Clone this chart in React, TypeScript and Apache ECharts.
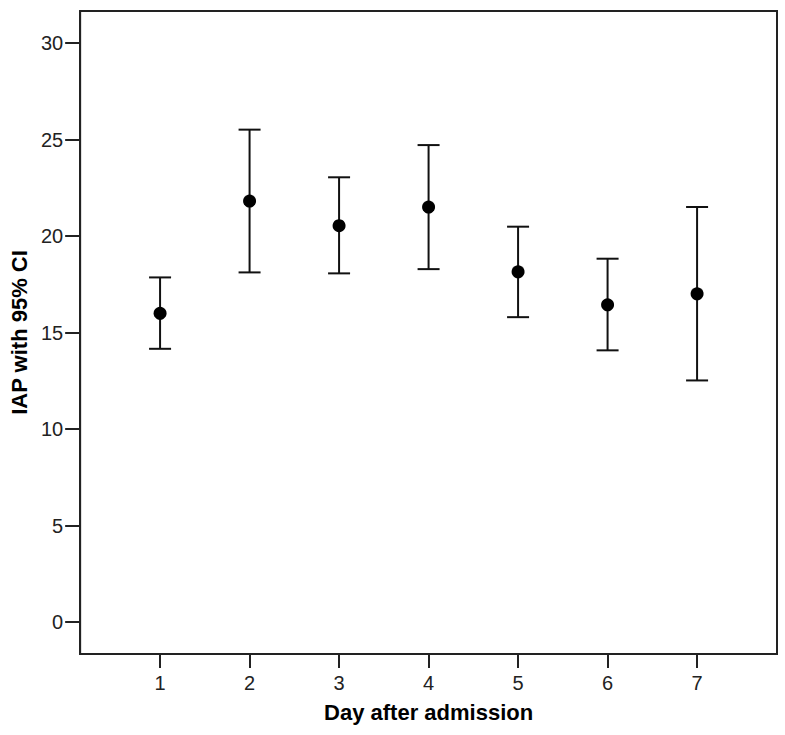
import React, { useEffect, useRef } from "react";
import * as echarts from "echarts";

const days = [1, 2, 3, 4, 5, 6, 7];
const means = [16.0, 21.82, 20.54, 21.51, 18.15, 16.44, 17.01];
const upperCI = [17.86, 25.52, 23.05, 24.72, 20.49, 18.83, 21.51];
const lowerCI = [14.16, 18.12, 18.07, 18.29, 15.8, 14.08, 12.52];
const yTicks = [0, 5, 10, 15, 20, 25, 30];

export default function App() {
  const ref = useRef<HTMLDivElement>(null);
  useEffect(() => {
    if (!ref.current) return;
    const chart = echarts.init(ref.current, null, { renderer: "svg" });
    const font = "'Liberation Sans', Arial, Helvetica, sans-serif";
    const axisColor = "#222";
    chart.setOption({
      animation: false,
      backgroundColor: "#fff",
      grid: {
        left: 79,
        right: 8,
        top: 11,
        bottom: 81,
        show: true,
        borderColor: axisColor,
        borderWidth: 2,
        containLabel: false,
      },
      xAxis: {
        type: "value",
        min: 0.107,
        max: 7.893,
        name: "Day after admission",
        nameLocation: "middle",
        nameGap: 47,
        nameTextStyle: { fontFamily: font, fontSize: 22, fontWeight: "bold", color: "#000" },
        splitLine: { show: false },
        axisLine: { show: true, onZero: false, lineStyle: { color: axisColor, width: 2 } },
        axisTick: { show: true, length: 14, lineStyle: { color: axisColor, width: 2 }, customValues: days },
        axisLabel: { fontFamily: font, fontSize: 20, color: "#222", margin: 19, customValues: days },
      },
      yAxis: {
        type: "value",
        min: -1.66,
        max: 31.67,
        name: "IAP with 95% CI",
        nameLocation: "middle",
        nameGap: 48,
        nameTextStyle: { fontFamily: font, fontSize: 22, fontWeight: "bold", color: "#000" },
        splitLine: { show: false },
        axisLine: { show: true, onZero: false, lineStyle: { color: axisColor, width: 2 } },
        axisTick: { show: true, length: 15, lineStyle: { color: axisColor, width: 2 }, customValues: yTicks },
        axisLabel: { fontFamily: font, fontSize: 20, color: "#222", margin: 17, customValues: yTicks },
      },
      series: [
        {
          type: "custom",
          data: days.map((d, i) => [d, lowerCI[i], upperCI[i]]),
          encode: { x: 0, y: [1, 2] },
          renderItem: (params: any, api: any) => {
            const x = api.value(0);
            const lo = api.coord([x, api.value(1)]);
            const hi = api.coord([x, api.value(2)]);
            const hw = 11;
            const style = { stroke: "#111", lineWidth: 2 };
            return {
              type: "group",
              children: [
                { type: "line", shape: { x1: lo[0], y1: lo[1], x2: hi[0], y2: hi[1] }, style },
                { type: "line", shape: { x1: hi[0] - hw, y1: hi[1], x2: hi[0] + hw, y2: hi[1] }, style },
                { type: "line", shape: { x1: lo[0] - hw, y1: lo[1], x2: lo[0] + hw, y2: lo[1] }, style },
              ],
            };
          },
          z: 2,
        },
        {
          type: "scatter",
          data: days.map((d, i) => [d, means[i]]),
          symbol: "circle",
          symbolSize: 13,
          itemStyle: { color: "#000", opacity: 1 },
          z: 3,
        },
      ],
    });
    return () => chart.dispose();
  }, []);
  return (
    <div
      ref={ref}
      style={{ position: "absolute", left: 0, top: 0, width: 785, height: 735, background: "#fff" }}
    />
  );
}
